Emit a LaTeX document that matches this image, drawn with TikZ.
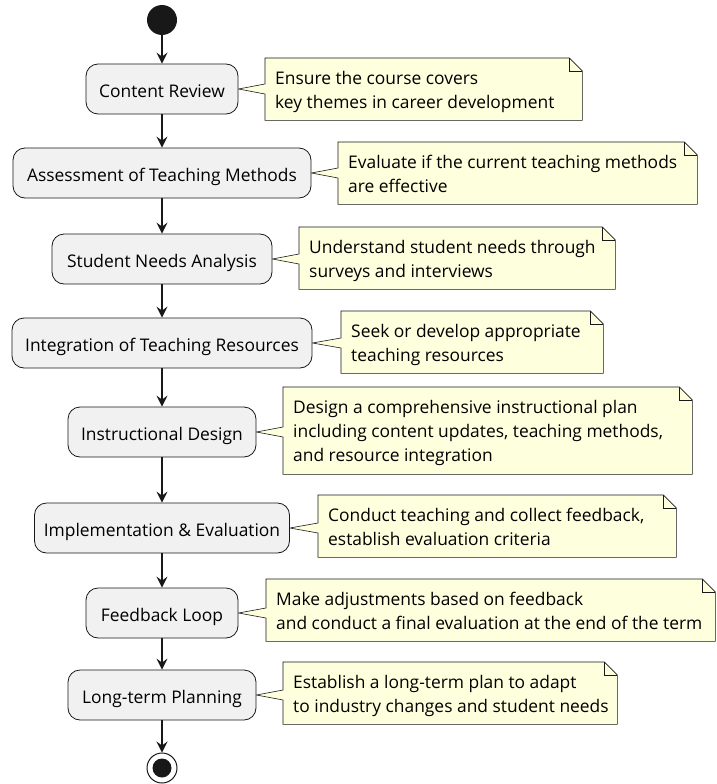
\documentclass[tikz,border=0pt]{standalone}
\usepackage{fontspec}
\setmainfont{Open Sans}
\usetikzlibrary{arrows.meta,calc,backgrounds}
\definecolor{vonal}{HTML}{181818}
\definecolor{aktfill}{HTML}{F1F1F1}
\definecolor{memofill}{HTML}{FEFFDD}
\tikzset{
  begindot/.style={circle,fill=vonal,minimum size=30pt,inner sep=0pt},
  enddot/.style={circle,draw=vonal,fill=white,line width=1pt,minimum size=30pt,inner sep=0pt},
  act/.style={draw=vonal,fill=aktfill,rounded corners=12pt,minimum height=50pt,line width=0.8pt,
    text height=18pt,text depth=2pt},
  memo/.style={anchor=north west,inner sep=0pt},
  memotext/.style={anchor=west,inner sep=0pt,align=left,
    execute at begin node=\strut,execute at end node=\strut},
  memoline/.style={draw=vonal,fill=memofill,line width=0.6pt,line join=miter},
  flow/.style={-{Stealth[length=11pt,width=11pt,inset=4pt]},line width=1.4pt,draw=vonal},
}

\begin{document}
\begin{tikzpicture}[x=1pt,y=-1pt,font=\fontsize{17.4}{24}\selectfont]
  \useasboundingbox (0,0) rectangle (716,784);
  % activities
  \node[begindot] (begin) at (162,20) {};
  \node[act,minimum width=152pt] (a1) at (162,89) {Content Review};
  \node[act,minimum width=298pt] (a2) at (162,173) {Assessment of Teaching Methods};
  \node[act,minimum width=220pt] (a3) at (162,259) {Student Needs Analysis};
  \node[act,minimum width=300pt] (a4) at (162,343) {Integration of Teaching Resources};
  \node[act,minimum width=188pt] (a5) at (162,432) {Instructional Design};
  \node[act,minimum width=255pt] (a6) at (162,528) {Implementation \& Evaluation};
  \node[act,minimum width=152pt] (a7) at (162,613) {Feedback Loop};
  \node[act,minimum width=188pt] (a8) at (162,695) {Long-term Planning};
  \node[enddot] (stop) at (162,768) {};
  \fill[vonal] (stop.center) circle (9.5pt);

  \foreach \p/\q in {begin/a1,a1/a2,a2/a3,a3/a4,a4/a5,a5/a6,a6/a7,a7/a8,a8/stop}
    \draw[flow] (\p) -- (\q);

  % notes: frames, then their texts
  \node[memo,minimum width=317pt,minimum height=62pt] (m1) at (265,58) {};
  \node[memo,minimum width=359pt,minimum height=62pt] (m2) at (338,142) {};
  \node[memo,minimum width=316pt,minimum height=62pt] (m3) at (299,227) {};
  \node[memo,minimum width=262pt,minimum height=62pt] (m4) at (341,311) {};
  \node[memo,minimum width=409pt,minimum height=87pt] (m5) at (283,387) {};
  \node[memo,minimum width=358pt,minimum height=62pt] (m6) at (318,495) {};
  \node[memo,minimum width=449pt,minimum height=62pt] (m7) at (266,579) {};
  \node[memo,minimum width=334pt,minimum height=62pt] (m8) at (283,662) {};

  \node[memotext] (t1) at ([xshift=10pt,yshift=-4pt]m1.west)
    {Ensure the course covers\\key themes in career development};
  \node[memotext] (t2) at ([xshift=10pt,yshift=-4pt]m2.west)
    {Evaluate if the current teaching methods\\are effective};
  \node[memotext] (t3) at ([xshift=10pt,yshift=-4pt]m3.west)
    {Understand student needs through\\surveys and interviews};
  \node[memotext] (t4) at ([xshift=10pt,yshift=-4pt]m4.west)
    {Seek or develop appropriate\\teaching resources};
  \node[memotext] (t5) at ([xshift=10pt,yshift=-4pt]m5.west)
    {Design a comprehensive instructional plan\\including content updates, teaching methods,\\and resource integration};
  \node[memotext] (t6) at ([xshift=10pt,yshift=-4pt]m6.west)
    {Conduct teaching and collect feedback,\\establish evaluation criteria};
  \node[memotext] (t7) at ([xshift=10pt,yshift=-4pt]m7.west)
    {Make adjustments based on feedback\\and conduct a final evaluation at the end of the term};
  \node[memotext] (t8) at ([xshift=10pt,yshift=-4pt]m8.west)
    {Establish a long-term plan to adapt\\to industry changes and student needs};

  \begin{scope}[on background layer]
    \foreach \nt/\ac in {m1/a1,m2/a2,m3/a3,m4/a4,m5/a5,m6/a6,m7/a7,m8/a8} {
      \draw[memoline] (\nt.north west) -- ($(\nt.north east)+(-13pt,0pt)$)
        -- ($(\nt.north east)+(0pt,-13pt)$) -- (\nt.south east) -- (\nt.south west)
        -- ($(\nt.west |- \ac.east)+(0pt,-5pt)$) -- (\ac.east)
        -- ($(\nt.west |- \ac.east)+(0pt,5pt)$) -- cycle;
      \draw[memoline,fill=none] ($(\nt.north east)+(-13pt,0pt)$) |- ($(\nt.north east)+(0pt,-13pt)$);
    }
  \end{scope}
\end{tikzpicture}
\end{document}
